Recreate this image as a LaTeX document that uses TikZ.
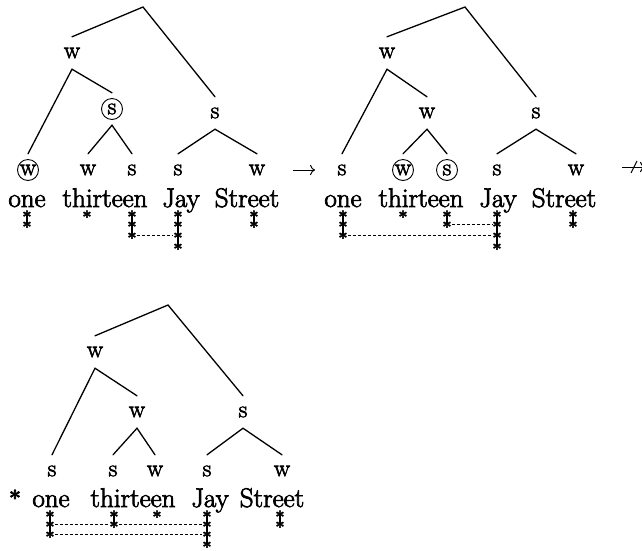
\documentclass[tikz,border=0pt]{standalone}
\usepackage{fontspec}
\setmainfont{Latin Modern Roman}[FakeBold=2.6]
\usetikzlibrary{arrows.meta}
\newcommand\gridcol[4]{% #1 name, #2 x, #3 baseline y, #4 offsets
  \foreach \o [count=\k] in {#4}{\node[astn] (#1-\k) at (#2,#3+\o) {\raisebox{-9.1pt}{*}};}}
\begin{document}
\begin{tikzpicture}[x=1pt,y=-1pt,
  tree/.style={line width=1.3pt, line cap=round},
  lab/.style={font=\fontsize{24}{26}\selectfont, inner sep=0pt, minimum height=32pt},
  ring/.style={circle, draw, line width=0.9pt, minimum size=21pt, inner sep=0pt},
  word/.style={font=\fontsize{27}{30}\selectfont, inner sep=0pt, anchor=base},
  astn/.style={inner sep=0pt, font=\fontsize{17}{17}\selectfont\bfseries,
               text height=3.5pt, text depth=3.5pt},
  col/.style={line width=1.4pt},
  clash/.style={line width=1pt, dash pattern=on 3pt off 2pt},
  arr/.style={line width=1pt, -{To[scale=1.3]}}]
\useasboundingbox (0,0) rectangle (642,550);

% ---------------- Panel 1 ----------------
\coordinate (r1) at (143,7);
\node[lab] (w1) at (72,53) {w};
\node[lab] (s1) at (215,113) {s};
\node[lab] (s1a) at (112,109) {s};
\node[ring] (c1a) at (s1a) {};
\node[lab] (b1a) at (28,170) {w};
\node[ring] (c1b) at (b1a) {};
\node[lab] (b1b) at (88,170) {w};
\node[lab] (b1c) at (132,170) {s};
\node[lab] (b1d) at (178,170) {s};
\node[lab] (b1e) at (257,170) {w};
\draw[tree] (w1.north) -- (r1) -- (s1.north);
\draw[tree] (b1a.north) -- (w1.south) -- (s1a.north);
\draw[tree] (b1b.north) -- (s1a.south) -- (b1c.north);
\draw[tree] (b1d.north) -- (s1.south) -- (b1e.north);
\coordinate (a1s) at (293,170); \coordinate (a1e) at (315,170);
\draw[arr] (a1s) -- (a1e);

\node[word] (t1a) at (27,207) {one};
\node[word] (t1b) at (105,207) {thirteen};
\node[word] (t1c) at (181,207) {Jay};
\node[word] (t1d) at (247,207) {Street};

\draw[col] (27,214) -- (27,224);
\draw[col] (132,214) -- (132,235);
\draw[col] (178,214) -- (178,246);
\draw[col] (254,214) -- (254,224);
\gridcol{p1one}{27}{207}{7,17}
\gridcol{p1thir}{87}{207}{7}
\gridcol{p1teen}{132}{207}{7,17,28}
\gridcol{p1jay}{178}{207}{7,17,28,39}
\gridcol{p1st}{254}{207}{7,17}
\draw[clash] (p1teen-3) -- (p1jay-3);

% ---------------- Panel 2 ----------------
\coordinate (r2) at (465,7);
\node[lab] (w2) at (387,53) {w};
\node[lab] (s2) at (536,113) {s};
\node[lab] (w2a) at (427,113) {w};
\node[lab] (b2a) at (342,170) {s};
\node[lab] (b2b) at (403,170) {w};
\node[ring] (c2b) at (b2b) {};
\node[lab] (b2c) at (447,170) {s};
\node[ring] (c2c) at (b2c) {};
\node[lab] (b2d) at (497,170) {s};
\node[lab] (b2e) at (576,170) {w};
\draw[tree] (w2.north) -- (r2) -- (s2.north);
\draw[tree] (b2a.north) -- (w2.south) -- (w2a.north);
\draw[tree] (b2b.north) -- (w2a.south) -- (b2c.north);
\draw[tree] (b2d.north) -- (s2.south) -- (b2e.north);
\coordinate (a2s) at (622,167); \coordinate (a2e) at (645,167);
\coordinate (x2a) at (631,173); \coordinate (x2b) at (637,161);
\draw[arr] (a2s) -- (a2e);
\draw[line width=1pt] (x2a) -- (x2b);

\node[word] (t2a) at (343,207) {one};
\node[word] (t2b) at (421,207) {thirteen};
\node[word] (t2c) at (498,207) {Jay};
\node[word] (t2d) at (564,207) {Street};

\draw[col] (343,214) -- (343,235);
\draw[col] (447,214) -- (447,224);
\draw[col] (497,214) -- (497,246);
\draw[col] (573,214) -- (573,224);
\gridcol{p2one}{343}{207}{7,17,28}
\gridcol{p2thir}{403}{207}{7}
\gridcol{p2teen}{447}{207}{7,17}
\gridcol{p2jay}{497}{207}{7,17,28,39}
\gridcol{p2st}{573}{207}{7,17}
\draw[clash] (p2teen-2) -- (p2jay-2);
\draw[clash] (p2one-3) -- (p2jay-3);

% ---------------- Panel 3 ----------------
\coordinate (r3) at (168,305);
\node[lab] (w3) at (95,352) {w};
\node[lab] (s3) at (243,412) {s};
\node[lab] (w3a) at (137,412) {w};
\node[lab] (b3a) at (52,471) {s};
\node[lab] (b3b) at (113,471) {s};
\node[lab] (b3c) at (155,471) {w};
\node[lab] (b3d) at (207,471) {s};
\node[lab] (b3e) at (282,471) {w};
\draw[tree] (w3.north) -- (r3) -- (s3.north);
\draw[tree] (b3a.north) -- (w3.south) -- (w3a.north);
\draw[tree] (b3b.north) -- (w3a.south) -- (b3c.north);
\draw[tree] (b3d.north) -- (s3.south) -- (b3e.north);

\node[inner sep=0pt, anchor=base, font=\fontsize{22}{22}\selectfont\bfseries] (star3) at (15,506) {*};
\node[word] (t3a) at (51,507) {one};
\node[word] (t3b) at (133,507) {thirteen};
\node[word] (t3c) at (210,507) {Jay};
\node[word] (t3d) at (272,507) {Street};

\draw[col] (50,514) -- (50,534);
\draw[col] (114,514) -- (114,524);
\draw[col] (207,514) -- (207,544);
\draw[col] (280,514) -- (280,524);
\gridcol{p3one}{50}{507}{7,17,27}
\gridcol{p3thir}{114}{507}{7,17}
\gridcol{p3teen}{157}{507}{7}
\gridcol{p3jay}{207}{507}{7,17,27,37}
\gridcol{p3st}{280}{507}{7,17}
\draw[clash] (p3one-2) -- (p3thir-2);
\draw[clash] (p3thir-2) -- (p3jay-2);
\draw[clash] (p3one-3) -- (p3jay-3);
\end{tikzpicture}
\end{document}
